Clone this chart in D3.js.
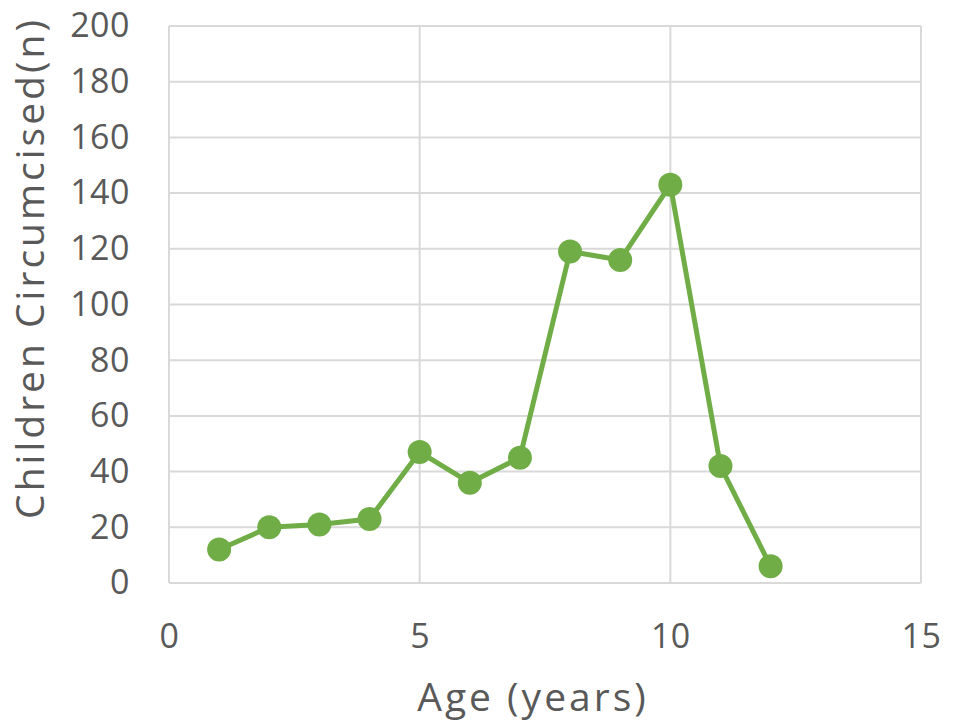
<!DOCTYPE html>
<html>
<head>
<meta charset="utf-8">
<script src="https://cdn.jsdelivr.net/npm/d3@7"></script>
<style>
  body { margin: 0; background: #fff; }
  text { font-family: "Open Sans", sans-serif; fill: #595959; }
</style>
</head>
<body>
<div id="chart"></div>
<script>
// values
const ages = [1, 2, 3, 4, 5, 6, 7, 8, 9, 10, 11, 12];
const children = [12, 20, 21, 23, 47, 36, 45, 119, 116, 143, 42, 6];
const xTicks = [0, 5, 10, 15];
const yTicks = [0, 20, 40, 60, 80, 100, 120, 140, 160, 180, 200];

const width = 955, height = 724;
const margin = {top: 26, right: 34, bottom: 141, left: 169};
const w = width - margin.left - margin.right;
const h = height - margin.top - margin.bottom;

const svg = d3.select("#chart").append("svg")
    .attr("width", width)
    .attr("height", height);

const g = svg.append("g")
    .attr("transform", "translate(" + margin.left + "," + margin.top + ")");

const x = d3.scaleLinear().domain([0, 15]).range([0, w]);
const y = d3.scaleLinear().domain([0, 200]).range([h, 0]);

// gridlines
g.selectAll(".hgrid").data(yTicks).enter().append("line")
    .attr("x1", 0).attr("x2", w)
    .attr("y1", d => y(d)).attr("y2", d => y(d))
    .attr("stroke", "#d9d9d9").attr("stroke-width", 2);
g.selectAll(".vgrid").data(xTicks).enter().append("line")
    .attr("x1", d => x(d)).attr("x2", d => x(d))
    .attr("y1", 0).attr("y2", h)
    .attr("stroke", "#d9d9d9").attr("stroke-width", 2);

// axes labels (no tick marks)
const yAxis = d3.axisLeft(y).tickValues(yTicks).tickSize(0).tickPadding(39);
g.append("g").call(yAxis)
    .call(s => s.select(".domain").remove())
    .selectAll("text")
    .style("font-size", "34px").style("letter-spacing", "0.5px")
    .attr("fill", "#595959");

const xAxis = d3.axisBottom(x).tickValues(xTicks).tickSize(0).tickPadding(41);
g.append("g").attr("transform", "translate(0," + h + ")").call(xAxis)
    .call(s => s.select(".domain").remove())
    .selectAll("text")
    .style("font-size", "34px").style("letter-spacing", "0.5px")
    .attr("fill", "#595959");

// axis titles
svg.append("text")
    .attr("x", 533)
    .attr("y", 711)
    .attr("text-anchor", "middle")
    .style("font-size", "39px")
    .style("letter-spacing", "3px")
    .text("Age (years)");

svg.append("text")
    .attr("transform", "translate(44,268) rotate(-90)")
    .attr("text-anchor", "middle")
    .style("font-size", "39px")
    .style("letter-spacing", "3px")
    .text("Children Circumcised(n)");

// series
const pts = ages.map((a, i) => ({age: a, n: children[i]}));
const line = d3.line().x(d => x(d.age)).y(d => y(d.n));

g.append("path")
    .datum(pts)
    .attr("d", line)
    .attr("fill", "none")
    .attr("stroke", "#70ad47")
    .attr("stroke-width", 5)
    .attr("stroke-linejoin", "round");

g.selectAll(".dot").data(pts).enter().append("circle")
    .attr("cx", d => x(d.age))
    .attr("cy", d => y(d.n))
    .attr("r", 12)
    .attr("fill", "#70ad47");
</script>
</body>
</html>
